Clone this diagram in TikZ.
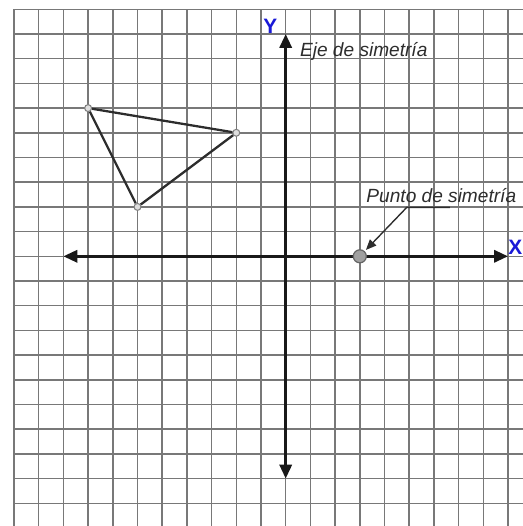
\documentclass[tikz,border=0pt]{standalone}
\usepackage{fontspec}
\setmainfont{Liberation Sans}
\usetikzlibrary{arrows.meta}
\definecolor{gridgray}{RGB}{120,120,120}
\definecolor{inkgray}{RGB}{45,45,45}
\definecolor{axblue}{RGB}{25,25,215}
\definecolor{ptfill}{RGB}{160,160,160}
\begin{document}
\begin{tikzpicture}[x=0.5cm,y=0.5cm,
  gridline/.style={draw=gridgray, line width=0.85pt},
  axis/.style={draw=black!90, line width=1.6pt,
    {Triangle[length=8pt,width=7pt]}-{Triangle[length=8pt,width=7pt]}},
  tri/.style={draw=inkgray, line width=1.3pt},
  vertex/.style={circle, draw=gray, fill=gray!25, line width=0.6pt,
    inner sep=0pt, minimum size=4pt},
  sympt/.style={circle, draw=gray!80!black, fill=ptfill, line width=0.7pt,
    inner sep=0pt, minimum size=7.5pt},
  axlabel/.style={text=axblue, font=\fontsize{12}{14}\selectfont\bfseries, inner sep=0pt},
  note/.style={text=inkgray, font=\fontsize{11}{13}\selectfont\itshape, inner sep=0pt},
  leader/.style={draw=inkgray, line width=0.8pt, -{Triangle[length=6pt,width=5pt]}, shorten >=1pt}
]
\useasboundingbox (-11.567,-10.919) rectangle (9.607,10.377);
\fill[white] (-11.567,-10.919) rectangle (9.607,10.377);
\begin{scope}
\clip (-11.567,-10.919) rectangle (9.607,10.377);
\foreach \x in {-11,...,9} \draw[gridline] (\x,10) -- (\x,-10.919);
\foreach \y in {-10,...,10} \draw[gridline] (-11,\y) -- (9.607,\y);
\end{scope}
% axes
\coordinate (xl) at (-9,0);
\coordinate (xr) at (9,0);
\coordinate (yt) at (0,9);
\coordinate (yb) at (0,-9);
\draw[axis] (xl) -- (xr);
\draw[axis] (yb) -- (yt);
% triangle
\node[vertex] (A) at (-8,6) {};
\node[vertex] (B) at (-2,5) {};
\node[vertex] (C) at (-6,2) {};
\draw[tri] (A) -- (B) -- (C) -- (A);
% symmetry point
\node[sympt] (P) at (3,0) {};
% labels
\node[axlabel] (Ylab) at (-0.62,9.3) {Y};
\node[axlabel] (Xlab) at (9.3,0.38) {X};
\node[note] (eje) at (3.16,8.3) {Eje de simetría};
\node[note] (punto) at (6.30,2.45) {Punto de simetría};
\coordinate (le) at (6.65,1.98);
\coordinate (lk) at (4.9,1.98);
\draw[leader] (le) -- (lk) -- (P);
\end{tikzpicture}
\end{document}
